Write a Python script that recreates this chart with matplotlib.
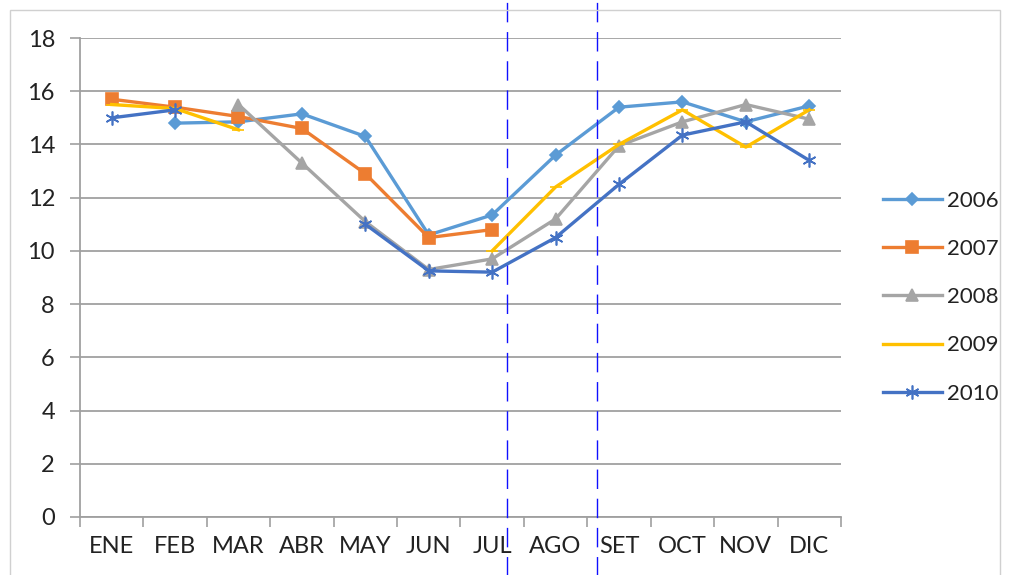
import numpy as np
import matplotlib
matplotlib.use("Agg")
import matplotlib.pyplot as plt
from matplotlib.patches import Rectangle

plt.rcParams['font.family'] = ['Lato', 'DejaVu Sans']

# Data
months = ["ENE", "FEB", "MAR", "ABR", "MAY", "JUN", "JUL", "AGO", "SET", "OCT", "NOV", "DIC"]
nan = np.nan
y2006 = [nan, 14.8, 14.85, 15.15, 14.3, 10.6, 11.35, 13.6, 15.4, 15.6, 14.85, 15.45]
y2007 = [15.7, 15.4, 15.05, 14.6, 12.9, 10.5, 10.8, nan, nan, nan, nan, nan]
y2008 = [nan, nan, 15.5, 13.3, 11.1, 9.3, 9.7, 11.2, 13.95, 14.85, 15.5, 14.95]
y2009 = [15.5, 15.35, 14.55, nan, nan, nan, 10.0, 12.4, 14.0, 15.3, 13.9, 15.3]
y2010 = [15.0, 15.3, nan, nan, 11.0, 9.25, 9.2, 10.5, 12.5, 14.35, 14.85, 13.4]
series_labels = ["2006", "2007", "2008", "2009", "2010"]
divider_pos = [6.23, 7.66]

colors = ["#5B9BD5", "#ED7D31", "#A5A5A5", "#FFC000", "#4472C4"]
markers = ["D", "s", "^", "_", (6, 2, 0)]
msizes = [6, 8, 8, 8, 10]

fig = plt.figure(figsize=(10.16, 5.75), dpi=100)
ax = fig.add_axes([0.0787, 0.1009, 0.749, 0.833])

x = np.arange(len(months))
for ys, lab, c, m, ms in zip([y2006, y2007, y2008, y2009, y2010], series_labels, colors, markers, msizes):
    ax.plot(x, ys, color=c, lw=2.4, marker=m, markersize=ms, markeredgecolor=c,
            markerfacecolor=c, markeredgewidth=1.2, label=lab, zorder=3)

ax.set_ylim(0, 18)
ax.set_yticks(np.arange(0, 19, 2))
ax.set_xlim(-0.5, 11.5)
ax.set_xticks(x)
ax.set_xticklabels(months)
ax.set_xticks(np.arange(-0.5, 12, 1), minor=True)
ax.tick_params(axis='x', which='major', length=0, pad=14, labelsize=17, labelcolor='#222222')
ax.tick_params(axis='x', which='minor', length=7, color='#A0A0A0', width=1.2)
ax.tick_params(axis='y', length=7, color='#A0A0A0', width=1.2, pad=11,
               labelsize=17, labelcolor='#222222')
ax.grid(axis='y', color='#A0A0A0', lw=1.3, zorder=0)

for side in ['top', 'right']:
    ax.spines[side].set_visible(False)
for side in ['left', 'bottom']:
    ax.spines[side].set_color('#A0A0A0')
    ax.spines[side].set_linewidth(1.3)

for xv in divider_pos:
    ax.axvline(xv, ymin=-0.25, ymax=1.2, color='#1010FF', lw=1.0,
               linestyle=(0, (14, 7)), clip_on=False, zorder=4)

leg = ax.legend(loc='center left', bbox_to_anchor=(0.869, 0.483),
                bbox_transform=fig.transFigure, frameon=False, fontsize=16,
                handlelength=2.65, labelspacing=1.27, handletextpad=0.25,
                borderpad=0, borderaxespad=0)
for t in leg.get_texts():
    t.set_color('#222222')

fig.patches.append(Rectangle((10 / 1016, -0.1), 990 / 1016, 1.1 - 10 / 575,
                             transform=fig.transFigure, fill=False,
                             edgecolor='#D0D0D0', lw=1.0))

fig.savefig("out.png", dpi=100)
